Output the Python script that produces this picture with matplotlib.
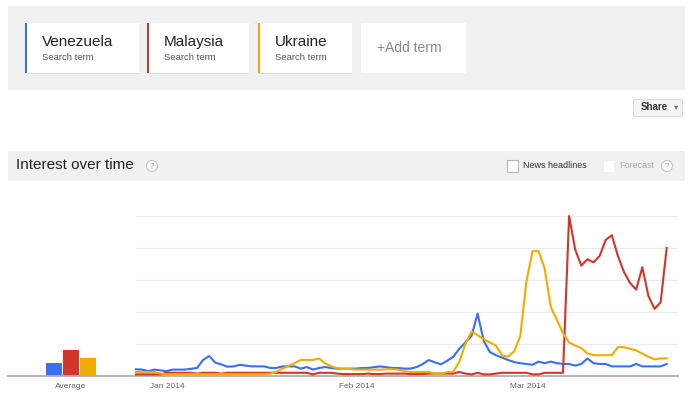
import numpy as np
import pandas as pd
import matplotlib
matplotlib.use("Agg")
import matplotlib.pyplot as plt
import matplotlib.dates as mdates
import matplotlib.transforms as mtransforms
from matplotlib.patches import Rectangle, Circle

plt.rcParams['font.family'] = ['Liberation Sans', 'DejaVu Sans']

terms = ['Venezuela', 'Malaysia', 'Ukraine']
colors = ['#3a6ff4', '#d2352b', '#f3ab00']
averages = [8, 16, 11]

dates = pd.date_range('2013-12-30', periods=88, freq='D')

venezuela = [4.2, 4, 3, 4, 3.5, 3, 4, 4, 4, 4.5, 5, 10, 12.5, 8.3, 7.2, 5.8, 6, 7, 6.5, 6,
             6, 6, 5, 5, 6, 6, 6, 4.6, 5.6, 4, 5, 5.6, 5, 4.6, 4.6, 4.6, 4.6, 5, 5, 5.5,
             6, 5.5, 5, 5, 4.6, 4.6, 5.6, 7.5, 10, 8.5, 7.3, 9.5, 12, 17, 21, 25, 39, 22, 15, 13,
             11.5, 10, 8.7, 8, 7.5, 7, 9, 8, 9, 8, 7.5, 7.5, 6.5, 7.5, 11, 8, 7.5, 7.5, 6, 6,
             6, 6, 7.5, 6, 6, 6, 6, 7.5]
malaysia = [1, 1, 1, 1, 1, 2, 2, 2, 2, 2, 1.5, 2, 2, 2, 1.5, 2, 2, 2, 2, 2,
            2, 2, 2, 2, 2, 2, 2, 2, 2, 1, 2, 2, 2, 1.5, 1.2, 1.2, 1.2, 1.2, 1.5, 1.2,
            1.2, 1.5, 1.5, 1.5, 1.5, 1.2, 1.2, 1.2, 1.5, 1.5, 1.5, 1.5, 1.5, 2.5, 1.5, 1, 2, 1, 1, 1.5,
            2, 2, 2, 2, 2, 1, 1, 2, 2, 2, 2, 100, 79, 69, 73, 71, 75, 85, 88, 75,
            65, 58, 54, 68, 50, 42, 46, 80]
ukraine = [2.5, 2.5, 2.5, 2.5, 1.5, 1, 1.2, 1.2, 1.2, 1.2, 1.2, 1.2, 1.2, 1.2, 1.2, 1.2, 1.2, 1.2, 1.2, 1.2,
           1.2, 1.2, 1.5, 2.5, 4.6, 6.3, 8, 10, 10, 10, 11, 8, 6, 4.8, 4.4, 4.4, 4, 4, 4, 4,
           4, 4.2, 4.3, 4, 3, 2.5, 2.5, 2.5, 2.5, 1.5, 1, 2.5, 2.5, 9, 20, 27.7, 25.5, 23, 21, 19,
           13, 12, 15.5, 25, 59, 78, 78, 67, 43, 35, 26.7, 21, 19, 17.5, 14, 13, 13, 13, 13, 18,
           18, 17, 16, 14, 12, 10.4, 11, 11]
series = [venezuela, malaysia, ukraine]

W, H = 693, 400
fig = plt.figure(figsize=(W / 100, H / 100), dpi=100)

# background layer in pixel coordinates
bg = fig.add_axes([0, 0, 1, 1])
bg.set_xlim(0, W)
bg.set_ylim(H, 0)
bg.axis('off')

grey = '#f1f1f1'
bg.add_patch(Rectangle((8, 6), 677, 84, fc=grey, ec='none'))
bg.add_patch(Rectangle((8, 151), 677, 30, fc=grey, ec='none'))

cards = [(25, 114), (147, 102), (258, 94)]
for (cx, cw), name, c in zip(cards, terms, colors):
    bg.add_patch(Rectangle((cx, 23.6), cw, 50, fc='#dcdcdc', ec='none'))
    bg.add_patch(Rectangle((cx, 23), cw, 50, fc='white', ec='none'))
    bg.add_patch(Rectangle((cx, 23), 2, 50, fc=c, ec='none'))
    bg.text(cx + 17, 42, name, fontsize=11, color='#222', va='center')
    bg.text(cx + 17, 57, 'Search term', fontsize=6.8, color='#555', va='center')
bg.add_patch(Rectangle((361, 23), 105, 50, fc='white', ec='none'))
bg.text(377, 48, '+Add term', fontsize=10, color='#888', va='center')

# share button
bg.add_patch(Rectangle((633, 99), 49, 17, fc='#f5f5f5', ec='#dcdcdc', lw=0.8))
bg.text(641, 107.5, 'Share', fontsize=7, color='#333', weight='bold', va='center')
bg.text(676, 108, '\u25be', fontsize=6, color='#777', va='center', ha='center')

# header
bg.text(16, 165, 'Interest over time', fontsize=11, color='#222', va='center')
for qx in (152, 667):
    bg.add_patch(Circle((qx, 166), 5.5, fc='white', ec='#c8c8c8', lw=0.8))
    bg.text(qx, 166.5, '?', fontsize=5.5, color='#999', ha='center', va='center')
bg.add_patch(Rectangle((507, 160), 11, 12, fc='white', ec='#b8b8b8', lw=0.8))
bg.text(523, 166, 'News headlines', fontsize=6.5, color='#333', va='center')
bg.add_patch(Rectangle((603, 160), 11, 12, fc='white', ec='#f0f0f0', lw=0.8))
bg.text(619, 166, 'Forecast', fontsize=6.5, color='#aaa', va='center')

# average bars
y0, y1 = 376, 216
ax_avg = fig.add_axes([8 / W, 1 - y0 / H, (136 - 8) / W, (y0 - y1) / H])
ax_avg.bar(range(3), averages, width=0.94, color=colors)
ax_avg.set_xlim(-2.706, 4.824)
ax_avg.set_ylim(0, 100)
ax_avg.set_yticks([])
ax_avg.set_xticks([1], ['Average'])
ax_avg.tick_params(axis='x', length=0, labelsize=6, labelcolor='#666', pad=5)
for s in ['top', 'left', 'right']:
    ax_avg.spines[s].set_visible(False)
ax_avg.spines['bottom'].set_color('#b0b0b0')
ax_avg.spines['bottom'].set_linewidth(1.3)
ax_avg.patch.set_alpha(0)

# main chart
ax = fig.add_axes([136 / W, 1 - y0 / H, (678 - 136) / W, (y0 - y1) / H])
for vals, c in zip(series, colors):
    ax.plot(dates, vals, color=c, lw=1.5, clip_on=False, zorder=3)
ax.set_xlim(dates[0], dates[0] + pd.Timedelta(days=88.85))
ax.set_ylim(0, 100)
ax.set_yticks([20, 40, 60, 80, 100])
ax.yaxis.grid(True, color='#ebebeb', lw=1)
ax.tick_params(axis='y', length=0, labelleft=False)
ax.xaxis.set_major_locator(mdates.MonthLocator(bymonthday=1))
ax.xaxis.set_major_formatter(mdates.DateFormatter('%b %Y'))
ax.tick_params(axis='x', length=0, labelsize=6, labelcolor='#666', pad=5)
shift = mtransforms.ScaledTranslation(2 / 100, 0, fig.dpi_scale_trans)
for lbl in ax.get_xticklabels():
    lbl.set_horizontalalignment('left')
    lbl.set_transform(lbl.get_transform() + shift)
for s in ['top', 'left', 'right']:
    ax.spines[s].set_visible(False)
ax.spines['bottom'].set_color('#b0b0b0')
ax.spines['bottom'].set_linewidth(1.3)
ax.set_axisbelow(True)
ax.patch.set_alpha(0)

fig.savefig('out.png', dpi=100)
